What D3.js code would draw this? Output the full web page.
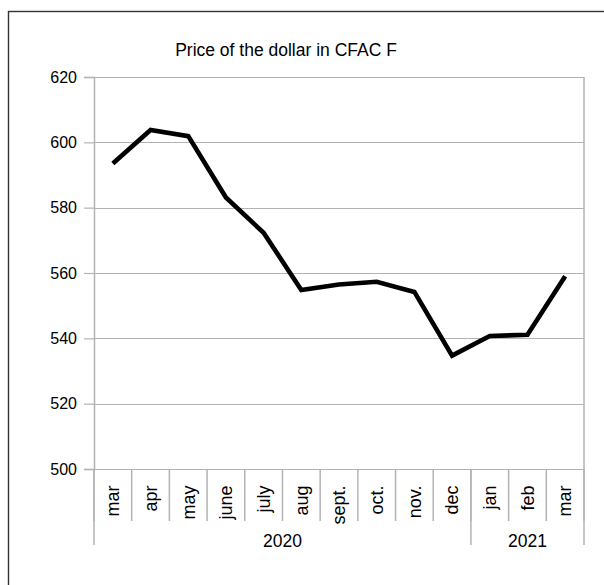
<!doctype html>
<html>
    <head>
        <title>Price of the dollar in CFAC F</title>
        <script src="https://cdn.jsdelivr.net/npm/d3@7"></script>
        <style>
            html, body {
                margin: 0px;
                padding: 0px;
                background: #fff;
            }
            svg text {
                font-family: "Liberation Sans", Arial, sans-serif;
                fill: #000;
            }
        </style>
    </head>
    <body>
        <svg class="svg" width="604" height="585"></svg>
    </body>
    <script>
        // values
        var months = ['mar', 'apr', 'may', 'june', 'july', 'aug', 'sept.', 'oct.', 'nov.', 'dec', 'jan', 'feb', 'mar'];
        var prices = [593.5, 603.8, 601.9, 583.1, 572.3, 554.8, 556.5, 557.3, 554.2, 534.7, 540.7, 541.1, 559.0];
        var years = ['2020', '2021'];
        var yearMonths = [10, 3];
        var yTicks = [500, 520, 540, 560, 580, 600, 620];
        var title = 'Price of the dollar in CFAC F';

        var svg = d3.select('svg');
        var margin = {left: 94, right: 20, top: 77, bottom: 116};
        var width = 604 - margin.left - margin.right;
        var height = 585 - margin.top - margin.bottom;
        var grey = '#b3b3b3';

        // outer frame: only top and left edges show in the window
        svg.append('rect')
            .attr('x', 8.5)
            .attr('y', 11.5)
            .attr('width', 800)
            .attr('height', 800)
            .attr('fill', 'none')
            .attr('stroke', '#333')
            .attr('stroke-width', 1.4);

        svg.append('text')
            .attr('x', 286)
            .attr('y', 55.5)
            .attr('text-anchor', 'middle')
            .style('font-size', '17.5px')
            .text(title);

        var idx = months.map(function(d, i) { return i; });
        var xScale = d3.scaleBand().domain(idx).range([0, width]).padding(0);
        var yScale = d3.scaleLinear().domain([500, 620]).range([height, 0]);

        var g = svg.append('g')
            .attr('transform', 'translate(' + margin.left + ', ' + margin.top + ')');

        // horizontal grid
        g.append('g').selectAll('line')
            .data(yTicks)
            .enter().append('line')
            .attr('x1', 0)
            .attr('x2', width)
            .attr('y1', function(d) { return Math.round(yScale(d)) + 0.5; })
            .attr('y2', function(d) { return Math.round(yScale(d)) + 0.5; })
            .attr('stroke', grey)
            .attr('stroke-width', 1.2);

        // right border of the plot
        g.append('line')
            .attr('x1', width).attr('x2', width)
            .attr('y1', 0).attr('y2', height)
            .attr('stroke', grey)
            .attr('stroke-width', 1.5);

        var yAxis = d3.axisLeft(yScale)
            .tickValues(yTicks)
            .tickSize(10)
            .tickPadding(7)
            .tickFormat(d3.format('d'));
        var yAxisGroup = g.append('g').call(yAxis);
        yAxisGroup.select('.domain').attr('stroke', grey).attr('stroke-width', 1.5);
        yAxisGroup.selectAll('.tick line').attr('stroke', grey).attr('stroke-width', 1.2);
        yAxisGroup.selectAll('.tick text')
            .style('font-size', '16px')
            .style('font-family', '"Liberation Sans", Arial, sans-serif')
            .attr('fill', '#000');

        // month separators below the axis
        var bounds = idx.concat([months.length]);
        g.append('g').selectAll('line')
            .data(bounds)
            .enter().append('line')
            .attr('x1', function(d) { return d < months.length ? xScale(d) : width; })
            .attr('x2', function(d) { return d < months.length ? xScale(d) : width; })
            .attr('y1', height)
            .attr('y2', height + 52)
            .attr('stroke', grey)
            .attr('stroke-width', 1.5);

        g.selectAll('.month')
            .data(months)
            .enter().append('text')
            .attr('class', 'month')
            .attr('text-anchor', 'end')
            .attr('dy', '0.35em')
            .attr('transform', function(d, i) {
                return 'translate(' + (xScale(i) + xScale.bandwidth() / 2) + ', ' + (height + 16.5) + ') rotate(-90)';
            })
            .style('font-size', '18px')
            .text(function(d) { return d; });

        // year groups
        var starts = [0];
        yearMonths.forEach(function(n, i) { starts.push(starts[i] + n); });
        var edges = starts.map(function(s) { return s < months.length ? xScale(s) : width; });
        g.append('g').selectAll('line')
            .data(edges)
            .enter().append('line')
            .attr('x1', function(d) { return d; })
            .attr('x2', function(d) { return d; })
            .attr('y1', height)
            .attr('y2', height + 76)
            .attr('stroke', grey)
            .attr('stroke-width', 1.5);

        g.selectAll('.year')
            .data(years)
            .enter().append('text')
            .attr('class', 'year')
            .attr('text-anchor', 'middle')
            .attr('x', function(d, i) { return (edges[i] + edges[i + 1]) / 2; })
            .attr('y', height + 78)
            .style('font-size', '17.5px')
            .text(function(d) { return d; });

        var line = d3.line()
            .x(function(d, i) { return xScale(i) + xScale.bandwidth() / 2; })
            .y(function(d) { return yScale(d); });

        g.append('path')
            .datum(prices)
            .attr('d', line)
            .attr('fill', 'none')
            .attr('stroke', '#000')
            .attr('stroke-width', 4.6)
            .attr('stroke-linejoin', 'miter');
    </script>
</html>
